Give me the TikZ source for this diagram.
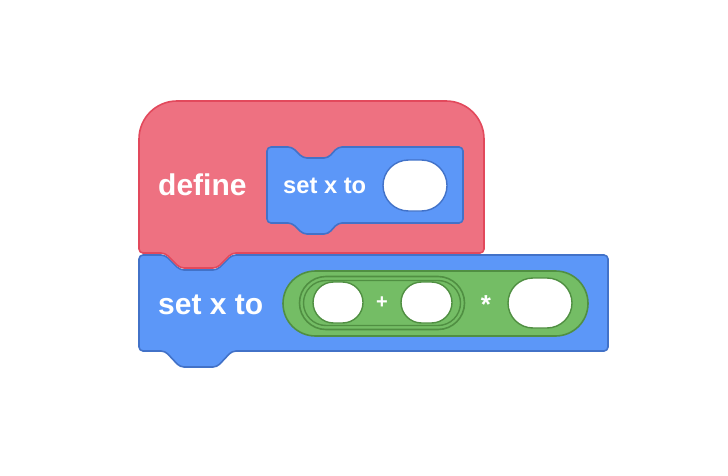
\documentclass[tikz,border=0pt]{standalone}
\usepackage{fontspec}
\setmainfont{Liberation Sans}
\usetikzlibrary{shapes.misc}
\definecolor{bfill}{RGB}{92,151,248}
\definecolor{bline}{RGB}{66,114,200}
\definecolor{rfill}{RGB}{238,113,129}
\definecolor{rline}{RGB}{226,73,92}
\definecolor{gfill}{RGB}{116,189,101}
\definecolor{gline}{RGB}{80,143,66}
\tikzset{
  blueblock/.style={fill=bfill, draw=bline, line width=1.6pt, rounded corners=4pt, line join=round},
  redblock/.style={fill=rfill, draw=rline, line width=1.6pt, line join=round},
  slot/.style={rounded rectangle, fill=white, draw=#1, line width=1.4pt, inner sep=0pt},
  reporter/.style={rounded rectangle, fill=gfill, draw=gline, line width=1.6pt, inner sep=0pt},
  lbl/.style={text=white, font=\bfseries\fontsize{30}{30}\selectfont, inner sep=0pt, anchor=base west},
  small/.style={text=white, font=\bfseries\fontsize{23.7}{24}\selectfont, inner sep=0pt, anchor=base west},
  op/.style={text=white, inner sep=0pt}
}
\begin{document}
\begin{tikzpicture}[x=1pt,y=-1pt]
\useasboundingbox (0,0) rectangle (728,476);
% main set block
\draw[blueblock] (139,255) -- (165,255) -- (180,270) -- (217,270) -- (232,255) -- (608,255)
  -- (608,351) -- (232,351) -- (217,367) -- (180,367) -- (165,351) -- (139,351) -- cycle;
% define hat block
\draw[redblock] (139,249) -- (139,139) arc[start angle=180, end angle=90, radius=38pt]
  -- (446,101) arc[start angle=90, end angle=0, radius=38pt]
  [rounded corners=4pt] -- (484,253) -- (232,253) -- (217,268) -- (180,268) -- (165,253) -- (139,253) -- (139,240);
% inner set block
\draw[blueblock] (267,147) -- (292,147) -- (303,158) -- (328,158) -- (338,147) -- (463,147)
  -- (463,223) -- (338,223) -- (328,234) -- (303,234) -- (292,223) -- (267,223) -- cycle;
\node[lbl] (define) at (158,195) {define};
\node[small] (innerlbl) at (283,193) {set x to};
\node[slot=bline, minimum width=64pt, minimum height=51pt] (s0) at (415,185.5) {};
\node[lbl] (mainlbl) at (158,314) {set x to};
% reporters
\node[reporter, minimum width=305pt, minimum height=65pt] (outer) at (435.5,303.5) {};
\node[reporter, minimum width=165pt, minimum height=53pt] (inner) at (382,303) {};
\node[rounded rectangle, draw=gline, line width=1.4pt, inner sep=0pt, minimum width=157pt, minimum height=45pt] (innerb) at (382,303) {};
\node[slot=gline, minimum width=50pt, minimum height=41pt] (s1) at (338,302.5) {};
\node[slot=gline, minimum width=51pt, minimum height=41pt] (s2) at (426.5,302.5) {};
\node[slot=gline, minimum width=64pt, minimum height=50pt] (s3) at (540,303) {};
\node[op, font=\bfseries\fontsize{20}{20}\selectfont] (plus) at (382,303) {+};
\node[op, font=\bfseries\fontsize{26}{26}\selectfont] (times) at (486,305) {*};
\end{tikzpicture}
\end{document}
